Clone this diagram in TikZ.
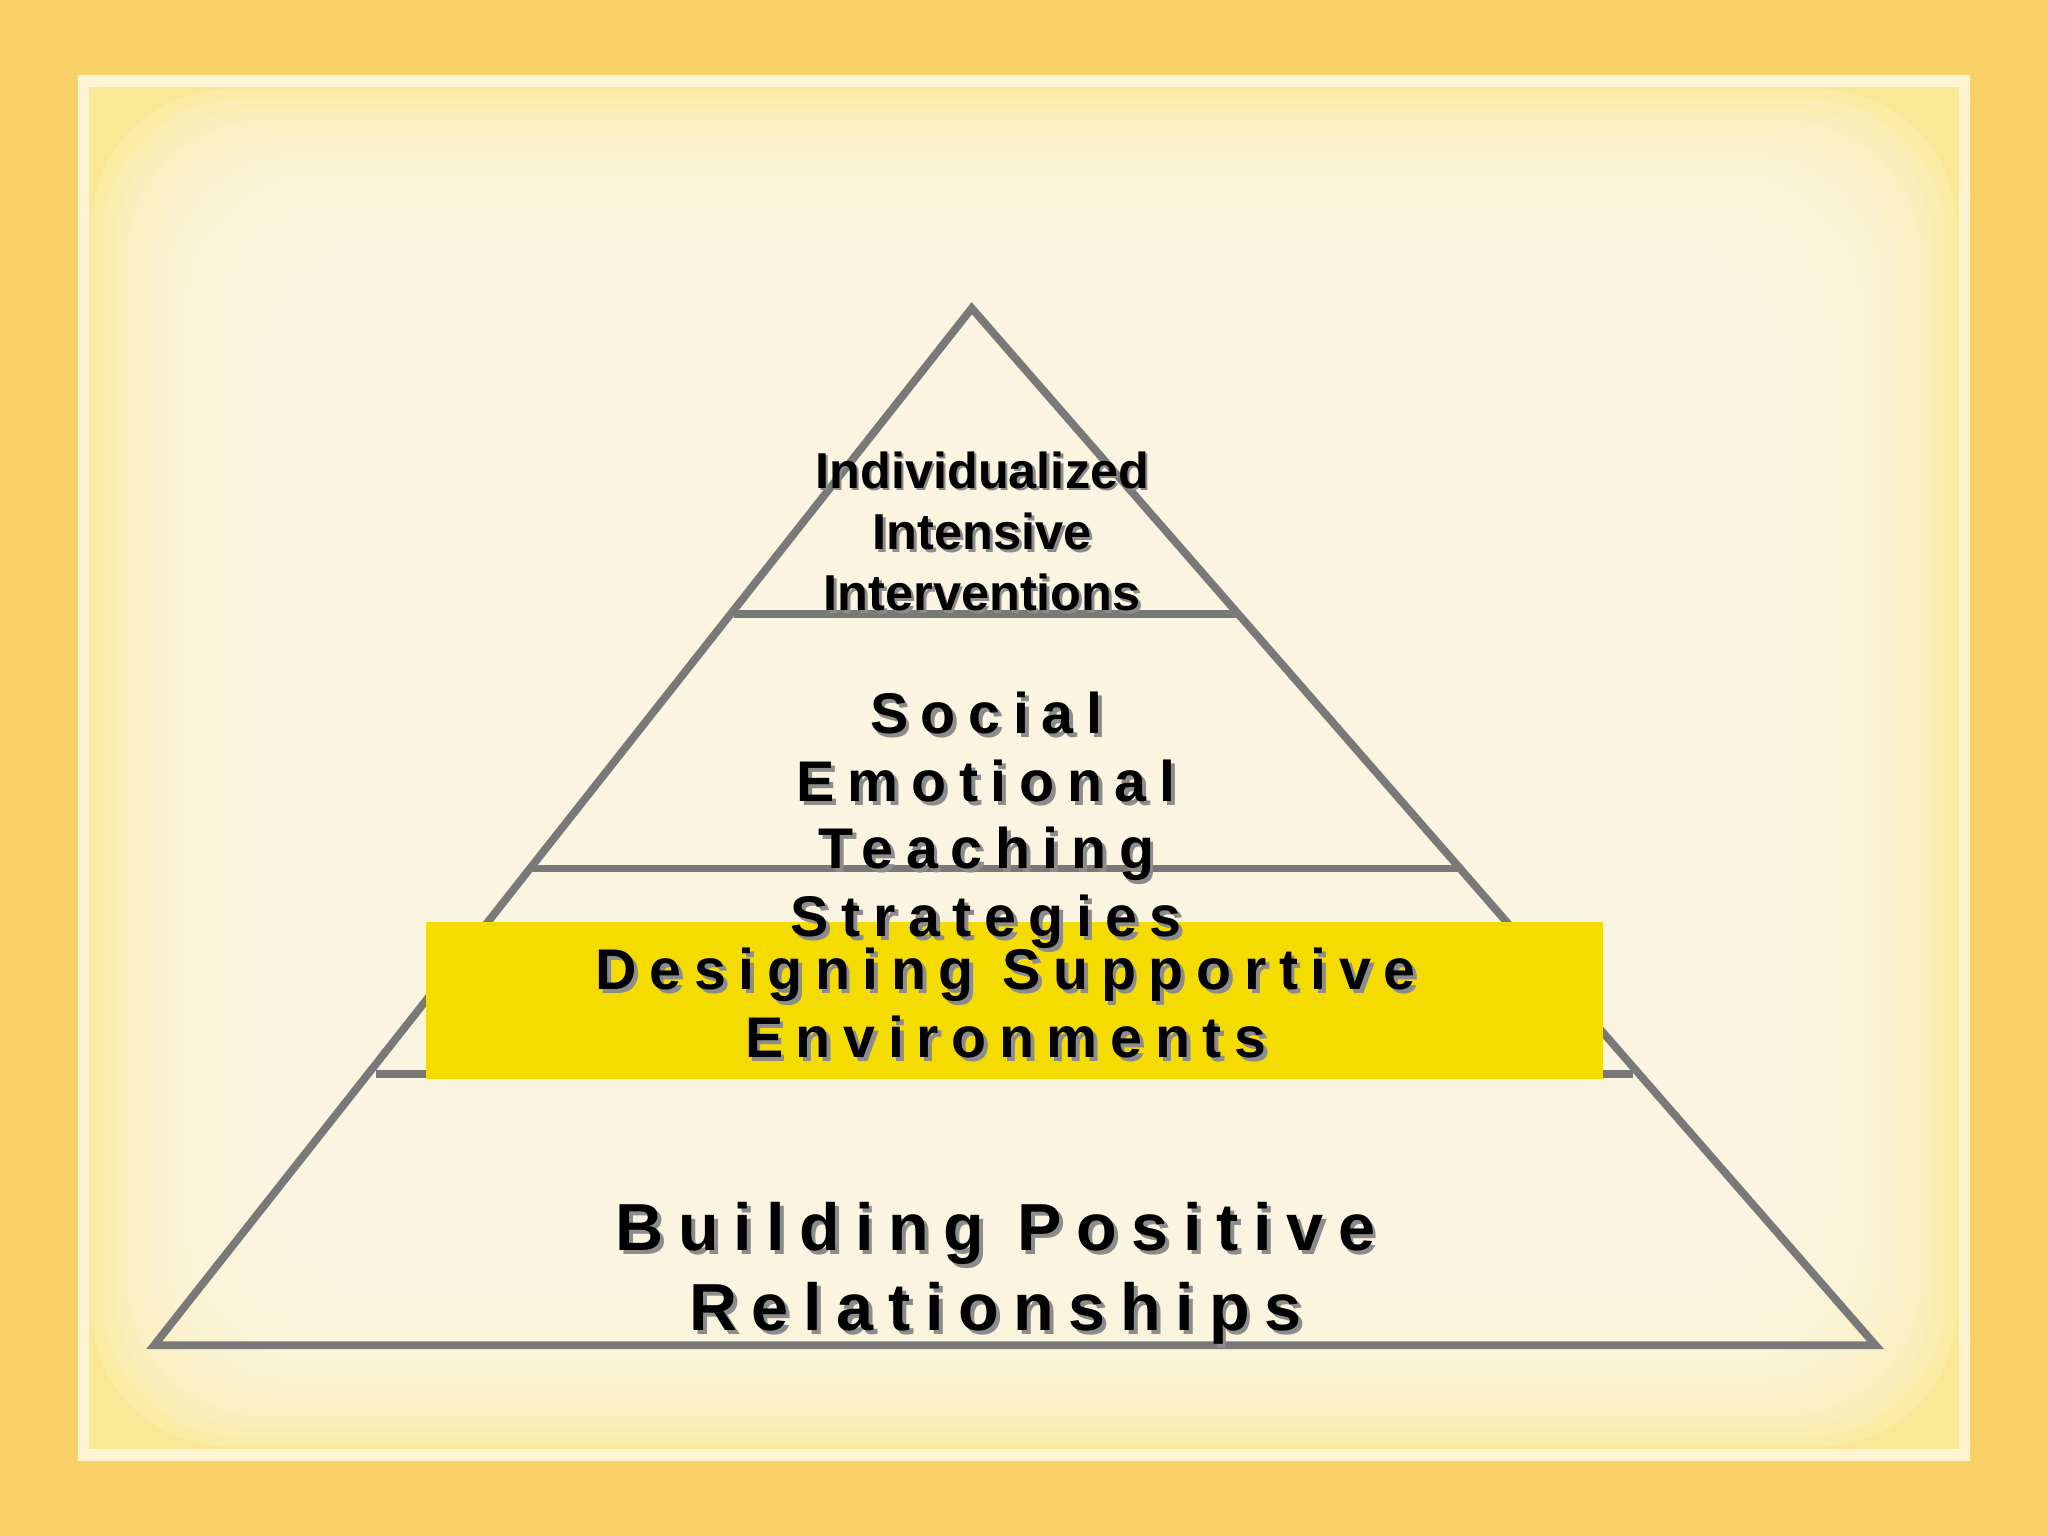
\documentclass[tikz,border=0pt]{standalone}
\usepackage{fontspec}
\setmainfont{Liberation Sans}
\newfontfamily\spaced[LetterSpace=22]{Liberation Sans}
\begin{document}
\begin{tikzpicture}[x=0.02cm,y=-0.02cm,
  pyr/.style={draw=gray!95!black,line width=3.4pt},
  txt/.style={align=center,inner sep=0pt},
  shd/.style={txt,text=black!45}]
\useasboundingbox (0,0) rectangle (1568,1176);
\fill[color={rgb,255:red,250;green,208;blue,104}] (0,0) rectangle (1568,1176);
\fill[color={rgb,255:red,250;green,232;blue,150}] (62,60) rectangle (1506,1116);
\foreach \i in {0,...,14}{
  \fill[color={rgb,255:red,252;green,248;blue,228},opacity=0.2,rounded corners=60]
    (70+\i*9,68+\i*8) rectangle (1498-\i*9,1108-\i*8);
}
\draw[color={rgb,255:red,253;green,244;blue,212},line width=5pt] (64,62) rectangle (1504,1114);
% pyramid
\coordinate (apex) at (744,236);
\coordinate (bl) at (118,1030);
\coordinate (br) at (1436,1030);
\draw[pyr] (bl) -- (apex) -- (br) -- cycle;
\coordinate (l1a) at (562,470); \coordinate (l1b) at (948,470);
\coordinate (l2a) at (408,665); \coordinate (l2b) at (1118,665);
\coordinate (l3a) at (288,822); \coordinate (l3b) at (1250,822);
\draw[pyr] (l1a) -- (l1b);
\draw[pyr] (l2a) -- (l2b);
\draw[pyr] (l3a) -- (l3b);
\node[fill={rgb,255:red,245;green,220;blue,0},minimum width=901*0.02cm,minimum height=120*0.02cm,inner sep=0pt] (box) at (776.5,766) {};
% texts
\node[shd,font=\bfseries\fontsize{22}{26.7}\selectfont] (t1s) at (754,409) {Individualized\\Intensive\\Interventions};
\node[txt,font=\bfseries\fontsize{22}{26.7}\selectfont] (t1) at (752,407) {Individualized\\Intensive\\Interventions};
\node[shd,font=\spaced\bfseries\fontsize{25}{29.5}\selectfont] (t2s) at (758,631) {Social\\Emotional\\Teaching\\Strategies};
\node[txt,font=\spaced\bfseries\fontsize{25}{29.5}\selectfont] (t2) at (755,628) {Social\\Emotional\\Teaching\\Strategies};
\node[shd,font=\spaced\bfseries\fontsize{25}{29.5}\selectfont] (t3s) at (773,771) {Designing Supportive\\Environments};
\node[txt,font=\spaced\bfseries\fontsize{25}{29.5}\selectfont] (t3) at (770,768) {Designing Supportive\\Environments};
\node[shd,font=\spaced\bfseries\fontsize{29}{35}\selectfont] (t4s) at (765,978) {Building Positive\\Relationships};
\node[txt,font=\spaced\bfseries\fontsize{29}{35}\selectfont] (t4) at (762,975) {Building Positive\\Relationships};
\end{tikzpicture}
\end{document}
